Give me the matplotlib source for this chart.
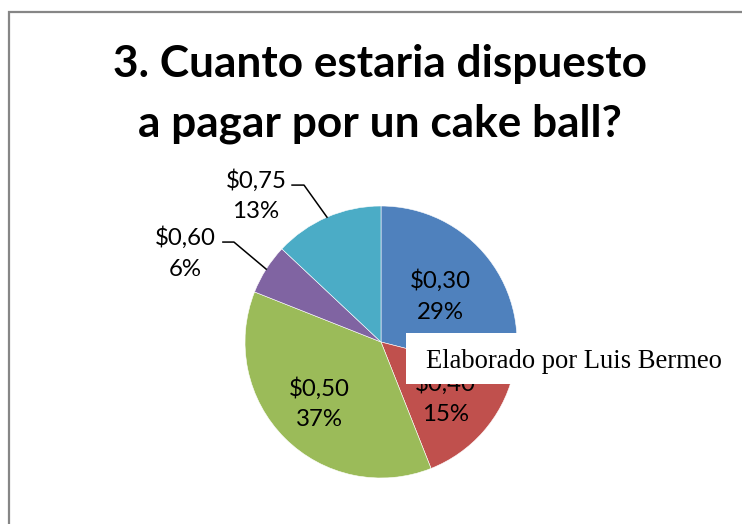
import numpy as np
import matplotlib
matplotlib.use("Agg")
import matplotlib.pyplot as plt
from matplotlib.patches import Rectangle

# data
PRICE_LABELS = ["$0,30", "$0,40", "$0,50", "$0,60", "$0,75"]
PERCENTAGES = [29, 15, 37, 6, 13]
TITLE_LINES = ["3. Cuanto estaria dispuesto", "a pagar por un cake ball?"]
CREDIT = "Elaborado por Luis Bermeo"

SLICE_COLORS = ["#4F81BD", "#C0504D", "#9BBB59", "#8064A2", "#4BACC6"]
BORDER_COLOR = "#868686"
INK = "#000000"

# label placement: radius for inside labels, None means an outside label with a leader line
INSIDE_RADIUS = [0.55, 0.63, 0.64, None, None]
# outside labels: (elbow offset, line end offset, text offset) relative to the wedge edge point
LEADER_OFFSETS = {
    3: ((-0.237, 0.199), (-0.318, 0.199), (-0.597, 0.118)),
    4: ((-0.169, 0.236), (-0.257, 0.236), (-0.522, 0.156)),
}

W, H = 742, 524
fig = plt.figure(figsize=(W / 100, H / 100), dpi=100, facecolor="white")

# chart frame (runs off the right and bottom edges)
fig.patches.append(Rectangle((9 / W, -0.1), 1.2, (H - 12) / H + 0.1,
                             transform=fig.transFigure, fill=False,
                             edgecolor=BORDER_COLOR, linewidth=1.6))

ax = fig.add_axes([245 / W, (H - 478) / H, 272 / W, 272 / H])
wedges, _ = ax.pie(PERCENTAGES, colors=SLICE_COLORS, startangle=90,
                   counterclock=False, radius=1.0,
                   wedgeprops={"edgecolor": "white", "linewidth": 0.4})
ax.set_xlim(-1, 1)
ax.set_ylim(-1, 1)
ax.set_aspect("equal")
ax.axis("off")

label_font = {"family": "Lato", "size": 17.3, "color": INK}
for i, wedge in enumerate(wedges):
    mid = np.deg2rad((wedge.theta1 + wedge.theta2) / 2)
    text = f"{PRICE_LABELS[i]}\n{PERCENTAGES[i]}%"
    if INSIDE_RADIUS[i] is not None:
        r = INSIDE_RADIUS[i]
        ax.text(r * np.cos(mid), r * np.sin(mid), text, ha="center", va="center",
                multialignment="center", linespacing=1.55, **label_font)
    else:
        ex, ey = np.cos(mid), np.sin(mid)
        elbow, end, toff = LEADER_OFFSETS[i]
        ax.plot([ex, ex + elbow[0], ex + end[0]], [ey, ey + elbow[1], ey + end[1]],
                color=INK, linewidth=1.1, clip_on=False)
        ax.text(ex + toff[0], ey + toff[1], text, ha="center", va="center",
                multialignment="center", linespacing=1.55, **label_font)

# title
fig.text(380 / W, 1 - 77 / H, TITLE_LINES[0], ha="center", va="baseline",
         family="Lato", weight="bold", size=31.8, color=INK)
fig.text(380 / W, 1 - 136 / H, TITLE_LINES[1], ha="center", va="baseline",
         family="Lato", weight="bold", size=31.8, color=INK)

# credit box
fig.patches.append(Rectangle((406 / W, 1 - 384 / H), (W - 406) / W, 51 / H,
                             transform=fig.transFigure, facecolor="white",
                             edgecolor="none", zorder=5))
fig.text(426 / W, 1 - 368 / H, CREDIT, ha="left", va="baseline",
         family="Liberation Serif", size=19.2, color=INK, zorder=6)

fig.savefig("out.png", dpi=100, facecolor="white")
